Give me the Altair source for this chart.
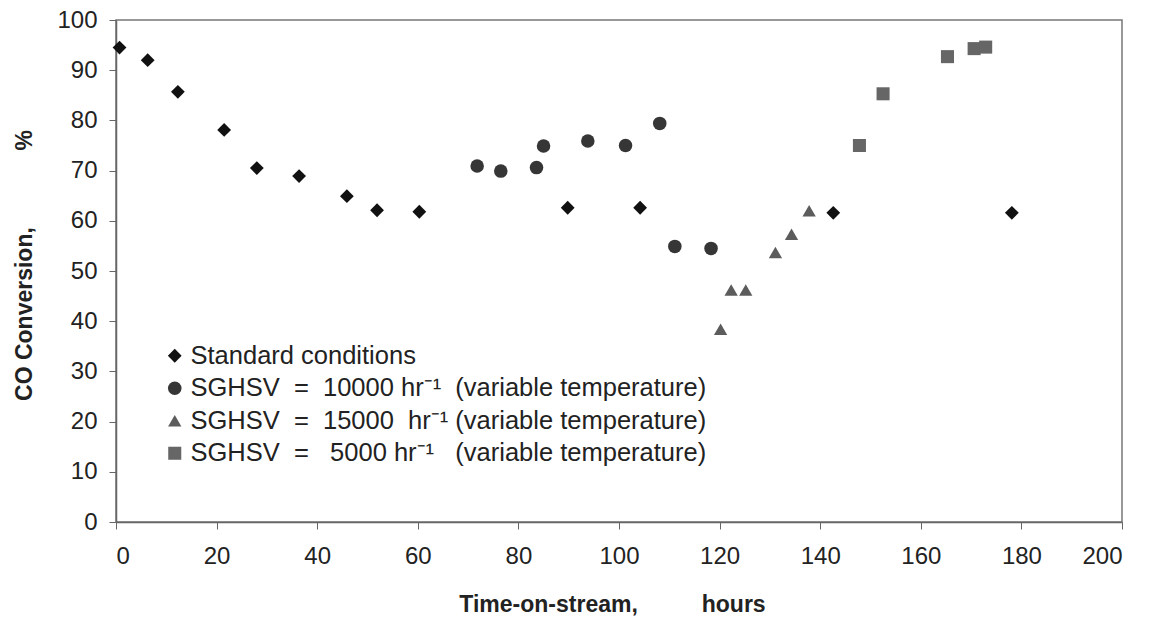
import altair as alt
import pandas as pd

NB = "\u00a0"
SUP = "hr\u207b\u00b9"

# ---- data ----
series_names = [
    "Standard conditions",
    "SGHSV" + NB * 2 + "=" + NB * 2 + "10000" + NB + SUP + NB * 2 + "(variable temperature)",
    "SGHSV" + NB * 2 + "=" + NB * 2 + "15000" + NB * 2 + SUP + NB + "(variable temperature)",
    "SGHSV" + NB * 2 + "=" + NB * 3 + "5000" + NB + SUP + NB * 3 + "(variable temperature)",
]

std_x = [0.7, 6.3, 12.3, 21.5, 28.0, 36.4, 45.9, 51.9, 60.3, 89.8, 104.2, 142.6, 178.1]
std_y = [94.5, 92.0, 85.7, 78.1, 70.5, 68.9, 64.9, 62.1, 61.8, 62.6, 62.6, 61.6, 61.6]

s10k_x = [71.8, 76.5, 83.6, 85.0, 93.8, 101.3, 108.1, 111.1, 118.3]
s10k_y = [70.9, 69.9, 70.6, 74.9, 75.9, 75.0, 79.4, 54.9, 54.5]

s15k_x = [120.2, 122.3, 125.2, 131.1, 134.3, 137.8]
s15k_y = [38.4, 46.2, 46.2, 53.7, 57.3, 62.0]

s5k_x = [147.8, 152.5, 165.3, 170.6, 172.9]
s5k_y = [75.0, 85.3, 92.7, 94.3, 94.6]

x_ticks = [0, 20, 40, 60, 80, 100, 120, 140, 160, 180, 200]
y_ticks = [0, 10, 20, 30, 40, 50, 60, 70, 80, 90, 100]

colors = ["#111111", "#363636", "#5c5c5c", "#666666"]
shapes = ["diamond", "circle", "triangle-up", "square"]
sizes = [190, 170, 170, 165]

rows = []
for name, xs, ys in zip(series_names,
                        [std_x, s10k_x, s15k_x, s5k_x],
                        [std_y, s10k_y, s15k_y, s5k_y]):
    for xv, yv in zip(xs, ys):
        rows.append({"series": name, "time": xv, "conv": yv})
df = pd.DataFrame(rows)

FONT = "Liberation Sans"

chart = alt.Chart(df).mark_point(filled=True, opacity=1, strokeWidth=0).encode(
    x=alt.X("time:Q",
            scale=alt.Scale(domain=[0, 200], nice=False, zero=False),
            axis=alt.Axis(values=x_ticks, title="Time-on-stream," + NB * 10 + "hours",
                          grid=False, tickSize=7, labelPadding=15,
                          titleX=496, titleY=82, titleBaseline="middle")),
    y=alt.Y("conv:Q",
            scale=alt.Scale(domain=[0, 100], nice=False),
            axis=alt.Axis(values=y_ticks, title="CO Conversion," + NB * 12 + "%",
                          grid=False, tickSize=7, labelPadding=12,
                          titleX=-92, titleY=245, titleBaseline="middle")),
    color=alt.Color("series:N",
                    scale=alt.Scale(domain=series_names, range=colors),
                    legend=alt.Legend(title=None, orient="none", legendX=46, legendY=323,
                                      symbolSize=70, labelFontSize=25.5, labelFont=FONT,
                                      labelColor="#222222", rowPadding=5.5, padding=0,
                                      labelOffset=3, labelLimit=800,
                                      symbolStrokeWidth=0)),
    shape=alt.Shape("series:N",
                    scale=alt.Scale(domain=series_names, range=shapes)),
    size=alt.Size("series:N",
                  scale=alt.Scale(domain=series_names, range=sizes),
                  legend=None),
).properties(
    width=1006,
    height=502,
    autosize=alt.AutoSizeParams(type="none"),
    padding={"left": 116, "top": 20, "right": 28, "bottom": 98},
    background="white",
).configure_axis(
    labelFont=FONT,
    labelFontSize=24,
    labelColor="#222222",
    titleFont=FONT,
    titleFontSize=23,
    titleFontWeight="bold",
    titleColor="#222222",
    domainColor="#666666",
    tickColor="#666666",
    domainWidth=1.5,
).configure_view(
    stroke="#777777",
    strokeWidth=1.5,
)

chart.save("out.html", embed_options={"renderer": "svg", "actions": False})
